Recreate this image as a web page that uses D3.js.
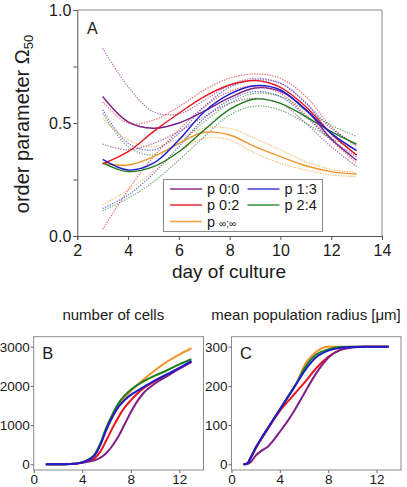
<!DOCTYPE html>
<html><head><meta charset="utf-8">
<script src="https://cdn.jsdelivr.net/npm/d3@7/dist/d3.min.js"></script>
<style>
body{margin:0;background:#fff;}
svg{display:block;font-family:"Liberation Sans",Arial,sans-serif;}
</style></head>
<body>
<svg id="chart" width="407" height="487"></svg>
<script>
// ---------- Panel A data (order parameter vs day) ----------
const daysA = [3,4,5,6,7,8,9,10,11,12,13];
const p00Mean  = [0.617,0.505,0.477,0.500,0.553,0.612,0.655,0.640,0.560,0.430,0.335];
const p00Upper = [0.830,0.661,0.550,0.540,0.600,0.668,0.698,0.676,0.590,0.450,0.360];
const p00Lower = [0.407,0.381,0.410,0.462,0.528,0.587,0.609,0.587,0.499,0.395,0.307];
const p02Mean  = [0.319,0.373,0.462,0.543,0.617,0.668,0.688,0.658,0.572,0.454,0.358];
const p02Upper = [0.594,0.499,0.513,0.572,0.646,0.698,0.717,0.698,0.617,0.484,0.395];
const p02Lower = [0.030,0.204,0.351,0.469,0.572,0.639,0.664,0.631,0.535,0.425,0.322];
const p13Mean  = [0.339,0.292,0.322,0.425,0.550,0.628,0.665,0.646,0.557,0.454,0.378];
const p13Upper = [0.558,0.410,0.381,0.454,0.572,0.658,0.690,0.676,0.587,0.476,0.401];
const p13Lower = [0.122,0.181,0.277,0.395,0.521,0.602,0.639,0.617,0.528,0.425,0.351];
const p24Mean  = [0.324,0.285,0.307,0.373,0.469,0.560,0.606,0.587,0.528,0.462,0.407];
const p24Upper = [0.543,0.395,0.358,0.410,0.506,0.587,0.631,0.617,0.557,0.490,0.440];
const p24Lower = [0.112,0.167,0.240,0.336,0.440,0.535,0.575,0.557,0.499,0.432,0.381];
const pInfMean  = [0.322,0.314,0.351,0.410,0.459,0.447,0.395,0.351,0.311,0.285,0.274];
const pInfUpper = [0.521,0.425,0.395,0.432,0.478,0.476,0.432,0.381,0.329,0.295,0.280];
const pInfLower = [0.137,0.204,0.285,0.373,0.432,0.425,0.366,0.322,0.292,0.270,0.263];

const seriesNames = ["p 0:0","p 0:2","p ∞;∞","p 1:3","p 2:4"];
const seriesColors = {"p 0:0":"#7f1f86","p 0:2":"#e8161c","p ∞;∞":"#f2952b","p 1:3":"#1c1ccf","p 2:4":"#1d7d1d"};

// ---------- Panel B data (number of cells) ----------
const daysB = [1,2,3,4,4.5,5,5.5,6,6.5,7,7.5,8,9,10,11,12,13];
const cellsInf = [0,0,5,50,110,230,500,880,1200,1480,1700,1870,2150,2400,2620,2800,2960];
const cells24  = [0,0,5,50,115,240,540,950,1280,1560,1760,1900,2110,2260,2400,2550,2680];
const cells02  = [0,0,5,45,90,150,330,620,930,1210,1450,1630,1930,2120,2280,2440,2620];
const cells00  = [0,0,5,40,70,100,170,290,480,720,1020,1330,1800,2060,2250,2440,2610];
const cells13  = [0,0,5,50,110,220,500,900,1220,1470,1640,1770,1960,2140,2300,2460,2630];

// ---------- Panel C data (mean population radius) ----------
const daysC = [1,1.3,1.6,2,2.5,3,4,5,5.5,6,7,8,9,10,11,12,13];
const radInf = [0,2,18,42,68,92,140,188,215,250,287,300,300,300,300,300,300];
const rad24  = [0,2,18,42,68,92,140,188,213,243,280,293,299,300,300,300,300];
const rad02  = [0,2,16,40,66,90,136,172,190,207,245,274,292,299,300,300,300];
const rad00  = [0,1,6,22,35,45,83,127,153,180,232,272,292,298,300,300,300];
const rad13  = [0,2,18,42,68,92,140,188,212,236,273,290,297,299,300,300,300];

const xTicksA = [2,4,6,8,10,12,14];
const yTicksA = [0,0.25,0.5,0.75,1.0];
const xTicksBC = [0,4,8,12];
const yTicksB = [0,1000,2000,3000];
const yTicksC = [0,100,200,300];

const svg = d3.select("#chart");
const TXT = "#1a1a1a";

// ================= Panel A =================
const xA = d3.scaleLinear().domain([2,14]).range([77.3,382]);
const yA = d3.scaleLinear().domain([0,1]).range([236,10]);

const gA = svg.append("g");
// frame top/right gray
gA.append("path").attr("d",`M${xA(2)},${yA(1)}H${xA(14)}V${yA(0)}`)
  .attr("fill","none").attr("stroke","#8a8a8a").attr("stroke-width",1);

const lineA = d3.line().x(d=>xA(d[0])).y(d=>yA(d[1])).curve(d3.curveCatmullRom.alpha(0.5));
const zipA = arr => daysA.map((d,i)=>[d,arr[i]]);

const bands = [
  ["p 0:0",p00Upper,p00Lower],["p 0:2",p02Upper,p02Lower],["p 1:3",p13Upper,p13Lower],
  ["p 2:4",p24Upper,p24Lower],["p ∞;∞",pInfUpper,pInfLower]
];
const means = [
  ["p ∞;∞",pInfMean],["p 2:4",p24Mean],["p 0:0",p00Mean],["p 0:2",p02Mean],["p 1:3",p13Mean]
];
bands.forEach(([n,u,l])=>{
  [u,l].forEach(arr=>{
    gA.append("path").attr("d",lineA(zipA(arr))).attr("fill","none")
      .attr("stroke",seriesColors[n]).attr("stroke-width",1.2)
      .attr("stroke-dasharray","1.3,1.3").attr("opacity",0.65);
  });
});
means.forEach(([n,m])=>{
  gA.append("path").attr("d",lineA(zipA(m))).attr("fill","none")
    .attr("stroke",seriesColors[n]).attr("stroke-width",1.4);
});

// axes
const axBA = gA.append("g").attr("transform",`translate(0,${yA(0)})`)
  .call(d3.axisBottom(xA).tickValues(xTicksA).tickSize(4).tickFormat(d3.format("d")));
axBA.select(".domain").attr("stroke","#555");
axBA.selectAll(".tick line").attr("stroke","#555");
axBA.selectAll("text").attr("y",20).attr("dy",null).attr("font-size",16).attr("fill",TXT)
  .attr("font-family","Liberation Sans, Arial, sans-serif");

const axLA = gA.append("g").attr("transform",`translate(${xA(2)},0)`)
  .call(d3.axisLeft(yA).tickValues(yTicksA).tickSize(4).tickPadding(2)
    .tickFormat(d=> (d===0||d===0.5||d===1)? d3.format(".1f")(d) : ""));
axLA.select(".domain").attr("stroke","#555");
axLA.selectAll(".tick line").attr("stroke","#555");
axLA.selectAll("text").attr("font-size",16).attr("fill",TXT)
  .attr("font-family","Liberation Sans, Arial, sans-serif");

gA.append("text").attr("x",87).attr("y",33.5).attr("font-size",16).attr("fill",TXT).text("A");

gA.append("text").attr("x",229).attr("y",278).attr("text-anchor","middle")
  .attr("font-size",19).attr("fill",TXT).text("day of culture");

const yl = gA.append("text").attr("transform","translate(29,124) rotate(-90)")
  .attr("text-anchor","middle").attr("font-size",20).attr("fill",TXT);
yl.append("tspan").text("order parameter Ω");
yl.append("tspan").attr("font-size",13).attr("dy",4).text("50");

// legend
const lg = gA.append("g");
lg.append("rect").attr("x",163.5).attr("y",179.5).attr("width",159).attr("height",52)
  .attr("fill","#fff").attr("stroke","#8a8a8a").attr("stroke-width",1);
const legItems = [
  {n:"p 0:0",x:170,y:189},{n:"p 1:3",x:247.5,y:189},
  {n:"p 0:2",x:170,y:205},{n:"p 2:4",x:247.5,y:205},
  {n:"p ∞;∞",x:170,y:221.5}
];
legItems.forEach(it=>{
  lg.append("line").attr("x1",it.x).attr("x2",it.x+32).attr("y1",it.y).attr("y2",it.y)
    .attr("stroke",seriesColors[it.n]).attr("stroke-width",1.6).attr("opacity",0.85);
  const t = lg.append("text").attr("x",it.x+37).attr("y",it.y+5).attr("font-size",14.5).attr("fill",TXT);
  if(it.n==="p ∞;∞"){
    t.append("tspan").text("p ");
    t.append("tspan").attr("font-size",10).text("∞;∞");
  } else t.text(it.n);
});

// ================= Panels B and C =================
function smallPanel(opts){
  const {x0,x1,xr,yTicks,yDom,days,series,label,title,titleX} = opts;
  const top=336.7, bottom=470;
  const x = d3.scaleLinear().domain([0,12]).range(xr);
  const y = d3.scaleLinear().domain(yDom).range([464.3,346.7]);
  const g = svg.append("g");
  g.append("rect").attr("x",x0).attr("y",top).attr("width",x1-x0).attr("height",bottom-top)
    .attr("fill","none").attr("stroke","#8a8a8a").attr("stroke-width",1);
  const ln = d3.line().x(d=>x(d[0])).y(d=>y(d[1])).curve(d3.curveMonotoneX);
  series.forEach(([n,arr])=>{
    g.append("path").attr("d",ln(days.map((d,i)=>[d,arr[i]]))).attr("fill","none")
      .attr("stroke",seriesColors[n]).attr("stroke-width",2);
  });
  const ab = g.append("g").attr("transform",`translate(0,${bottom})`)
    .call(d3.axisBottom(x).tickValues(xTicksBC).tickSize(3).tickFormat(d3.format("d")));
  ab.select(".domain").remove();
  ab.selectAll(".tick line").attr("stroke","#666");
  ab.selectAll("text").attr("y",14).attr("dy",null).attr("font-size",13.5).attr("fill",TXT)
    .attr("font-family","Liberation Sans, Arial, sans-serif");
  const al = g.append("g").attr("transform",`translate(${x0},0)`)
    .call(d3.axisLeft(y).tickValues(yTicks).tickSize(3).tickPadding(1).tickFormat(d3.format("d")));
  al.select(".domain").remove();
  al.selectAll(".tick line").attr("stroke","#666");
  al.selectAll("text").attr("font-size",13.5).attr("fill",TXT)
    .attr("font-family","Liberation Sans, Arial, sans-serif");
  g.append("text").attr("x",x0+8.5).attr("y",358.5).attr("font-size",16.5).attr("fill",TXT).text(label);
  g.append("text").attr("x",titleX).attr("y",320).attr("text-anchor","middle")
    .attr("font-size",15).attr("fill",TXT).text(title);
}

smallPanel({x0:33.7,x1:203.5,xr:[33.7,179.3],yTicks:yTicksB,yDom:[0,3000],days:daysB,
  series:[["p ∞;∞",cellsInf],["p 2:4",cells24],["p 0:2",cells02],["p 0:0",cells00],["p 1:3",cells13]],
  label:"B",title:"number of cells",titleX:113.3});

smallPanel({x0:231.5,x1:401,xr:[231.5,376.6],yTicks:yTicksC,yDom:[0,300],days:daysC,
  series:[["p ∞;∞",radInf],["p 2:4",rad24],["p 0:2",rad02],["p 0:0",rad00],["p 1:3",rad13]],
  label:"C",title:"mean population radius [μm]",titleX:306});
</script>
</body></html>
